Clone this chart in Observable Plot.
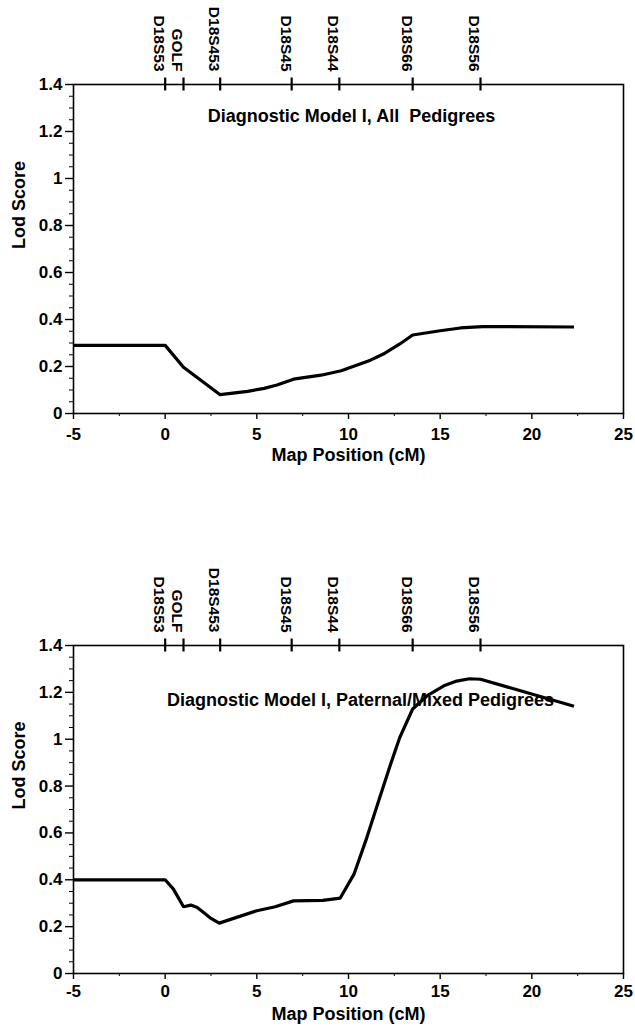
<!DOCTYPE html>
<html><head><meta charset="utf-8">
<script src="https://cdn.jsdelivr.net/npm/d3@7"></script>
<script src="https://cdn.jsdelivr.net/npm/@observablehq/plot@0.6"></script>
<style>
html,body{margin:0;padding:0;background:#fff;}
#charts svg{display:block;}
</style></head><body><div id="charts"></div>
<script>
// ---- data ----
const markerNames = ["D18S53", "GOLF", "D18S453", "D18S45", "D18S44", "D18S66", "D18S56"];
const markerPos = [0, 1, 3, 6.9, 9.5, 13.5, 17.2];

const xTicks = [-5, 0, 5, 10, 15, 20, 25];
const xMinorTicks = [-2.5, 2.5, 7.5, 12.5, 17.5, 22.5];
const yTicks = [0, 0.2, 0.4, 0.6, 0.8, 1, 1.2, 1.4];
const yMinorTicks = [0.05, 0.1, 0.15, 0.25, 0.3, 0.35, 0.45, 0.5, 0.55, 0.65, 0.7, 0.75,
  0.85, 0.9, 0.95, 1.05, 1.1, 1.15, 1.25, 1.3, 1.35];

const allPos = [-5, 0, 1, 3, 4.5, 5.4, 6.1, 7, 8.5, 9.6, 11.2, 11.9, 12.8, 13.5, 15, 16.1, 17.3, 22.3];
const allLod = [0.29, 0.29, 0.197, 0.08, 0.094, 0.107, 0.121, 0.146, 0.163, 0.182, 0.227, 0.253, 0.296, 0.334, 0.352, 0.364, 0.37, 0.368];

const patPos = [-5, 0, 0.45, 1, 1.4, 1.75, 2.2, 2.5, 2.95, 5, 6, 7, 8.6, 9.55, 10.3, 11.0, 11.7, 12.3, 12.8, 13.5, 14.3, 15.2, 15.9, 16.6, 17.2, 22.3];
const patLod = [0.40, 0.40, 0.36, 0.285, 0.292, 0.282, 0.254, 0.235, 0.215, 0.268, 0.285, 0.31, 0.312, 0.322, 0.424, 0.58, 0.75, 0.894, 1.008, 1.129, 1.186, 1.228, 1.248, 1.258, 1.256, 1.141];

const titles = ["Diagnostic Model I, All\u00a0 Pedigrees", "Diagnostic Model I, Paternal/Mixed Pedigrees"];
const xLabel = "Map Position (cM)";
const yLabel = "Lod Score";

// ---- drawing ----
const FONT = "'Liberation Sans', Arial, Helvetica, sans-serif";

function makeChart(xs, ys, title, cfg) {
  const rows = xs.map((x, i) => ({x, y: ys[i]}));
  const markers = markerNames.map((name, i) => ({name, pos: markerPos[i]}));
  return Plot.plot({
    width: 635,
    height: cfg.height,
    marginLeft: 73,
    marginRight: 12,
    marginTop: cfg.marginTop,
    marginBottom: cfg.marginBottom,
    style: {fontFamily: FONT, fontWeight: "bold", fontSize: "17px", color: "black", background: "white", overflow: "visible"},
    x: {domain: [-5, 25]},
    y: {domain: [0, 1.4]},
    marks: [
      Plot.axisX(xTicks, {anchor: "bottom", tickSize: 6, tickPadding: cfg.xTickPadding, tickFormat: d => String(d), fontSize: 17, fontWeight: "bold", label: null, strokeWidth: 1.4}),
      Plot.axisX(xMinorTicks, {anchor: "bottom", tickSize: 3, tickFormat: () => "", label: null, strokeWidth: 1}),
      Plot.axisY(yTicks, {anchor: "left", tickSize: 8, tickPadding: 3, tickFormat: d => String(d), fontSize: 17, fontWeight: "bold", label: null, strokeWidth: 1.4}),
      Plot.axisY(yMinorTicks, {anchor: "left", tickSize: 4, tickFormat: () => "", label: null, strokeWidth: 1}),
      Plot.frame({strokeWidth: 1.6}),
      Plot.ruleX(markers, {x: "pos", y1: () => 1.4, y2: () => 1.4, insetTop: -6.5, insetBottom: -6.5, strokeWidth: 2.2}),
      Plot.text(markers, {x: "pos", frameAnchor: "top", text: "name", rotate: 90, textAnchor: "end", dy: -13, fontSize: 15.5, fontWeight: "bold"}),
      Plot.text([title], {frameAnchor: "top", text: d => d, dx: cfg.titleDx, dy: cfg.titleDy, fontSize: 18, fontWeight: "bold"}),
      Plot.text([xLabel], {frameAnchor: "bottom", text: d => d, dy: cfg.xLabelDy, fontSize: 18, fontWeight: "bold"}),
      Plot.text([yLabel], {frameAnchor: "left", text: d => d, rotate: -90, dx: -54, fontSize: 18, fontWeight: "bold"}),
      Plot.line(rows, {x: "x", y: "y", stroke: "black", strokeWidth: 3.2, strokeLinejoin: "round", strokeLinecap: "butt"})
    ]
  });
}

const root = document.getElementById("charts");
root.appendChild(makeChart(allPos, allLod, titles[0], {height: 515, marginTop: 84, marginBottom: 102, titleDx: 3, titleDy: 25, xLabelDy: 47, xTickPadding: 8}));
root.appendChild(makeChart(patPos, patLod, titles[1], {height: 515, marginTop: 130, marginBottom: 57, titleDx: 12, titleDy: 48, xLabelDy: 46, xTickPadding: 5}));
</script></body></html>
